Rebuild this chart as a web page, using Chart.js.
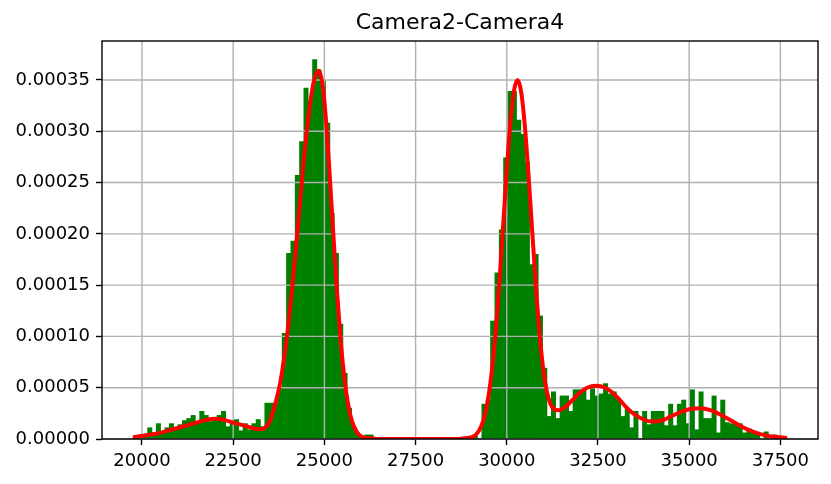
<!DOCTYPE html>
<html>
<head>
<meta charset="utf-8">
<title>Camera2-Camera4</title>
<script src="https://cdn.jsdelivr.net/npm/chart.js@4.4.0/dist/chart.umd.min.js"></script>
<style>
  html, body { margin: 0; padding: 0; background: #fff; }
</style>
</head>
<body>
<canvas id="chart" width="831" height="484"></canvas>
<script>
// Camera2-Camera4 histogram (density), 150 equal bins
const binStart = 19796;
const binWidth = 119;

// bar heights, in units of 1e-5
const binDensity = [
  0.2, 0.4, 0.4, 1.1, 0.4, 1.5, 0.7, 1.1, 1.5, 0.9,
  1.4, 1.8, 2.0, 2.3, 1.5, 2.7, 2.3, 1.7, 2.0, 2.3,
  2.7, 1.2, 1.8, 1.9, 0.8, 1.5, 0.9, 1.5, 1.9, 1.2,
  3.5, 3.5, 3.5, 5.0, 10.3, 18.1, 19.3, 25.7, 29.0, 34.2,
  33.0, 37.0, 36.0, 35.0, 30.8, 22.0, 18.1, 11.2, 6.4, 3.0,
  1.2, 0.4, 0.1, 0.4, 0.4, 0, 0, 0, 0, 0,
  0, 0, 0, 0, 0, 0, 0, 0, 0, 0,
  0, 0, 0, 0, 0, 0, 0, 0.2, 0.4, 0,
  3.4, 3.8, 11.5, 16.2, 20.4, 27.4, 33.9, 33.9, 31.1, 29.7,
  27.0, 17.0, 18.0, 12.0, 6.9, 2.2, 4.6, 2.0, 4.2, 4.2,
  2.7, 4.8, 4.8, 4.8, 3.8, 5.0, 4.2, 4.4, 5.4, 4.4,
  4.6, 3.8, 2.2, 3.0, 1.1, 2.7, 0, 2.7, 1.4, 2.7,
  2.7, 2.7, 1.3, 3.4, 1.3, 3.4, 3.8, 1.5, 4.8, 0.9,
  4.6, 2.0, 2.0, 4.2, 0.6, 3.8, 1.6, 1.5, 1.5, 1.5,
  0.6, 1.0, 0.6, 0.4, 0, 0.7, 0, 0.4, 0.3, 0.2
];

// red density curve, y in units of 1e-5
const curveX = [
  19796, 20000, 20250, 20500, 20750, 21000, 21250, 21500, 21750, 22000,
  22250, 22500, 22750, 23000, 23200, 23350, 23500, 23650, 23800, 23950,
  24100, 24250, 24400, 24550, 24700, 24844, 24950, 25050, 25150, 25250,
  25350, 25450, 25550, 25650, 25750, 25900, 26050, 26300, 26600, 28600,
  28800, 29000, 29100, 29200, 29300, 29400, 29500, 29600, 29700, 29800,
  29900, 30000, 30100, 30200, 30300, 30400, 30500, 30600, 30700, 30800,
  30900, 31000, 31100, 31200, 31300, 31420, 31600, 31800, 32000, 32200,
  32450, 32700, 32900, 33100, 33300, 33500, 33750, 34000, 34250, 34500,
  34750, 35000, 35300, 35600, 35900, 36200, 36500, 36800, 37100, 37400,
  37639
];
const curveY = [
  0.2, 0.3, 0.45, 0.6, 0.85, 1.1, 1.35, 1.6, 1.85, 1.97,
  1.85, 1.6, 1.35, 1.1, 0.95, 1.05, 1.7, 3.4, 5.7, 9.3,
  14.1, 19.8, 25.8, 31.0, 34.7, 35.9, 34.5, 30.8, 25.5, 19.7,
  14.2, 9.5, 5.9, 3.4, 1.8, 0.62, 0.18, 0.05, 0, 0,
  0.05, 0.15, 0.28, 0.62, 1.25, 2.35, 4.2, 6.9, 10.6, 15.4,
  20.8, 26.2, 30.9, 34.0, 35.0, 33.7, 30.3, 25.5, 20.1, 14.8,
  10.2, 6.8, 4.6, 3.4, 2.9, 2.8, 3.1, 3.8, 4.5, 5.0,
  5.2, 5.0, 4.5, 3.8, 3.0, 2.4, 1.9, 1.7, 1.8, 2.2,
  2.6, 2.9, 3.0, 2.8, 2.3, 1.7, 1.1, 0.65, 0.35, 0.2,
  0.12
];

const xTicks = [20000, 22500, 25000, 27500, 30000, 32500, 35000, 37500];
const yTicks = [0, 0.00005, 0.0001, 0.00015, 0.0002, 0.00025, 0.0003, 0.00035];

const UNIT = 1e-5;
const FONT = 'DejaVu Sans';

// grid goes over the bars but under the curve, spines on top
const gridAndSpines = {
  id: 'gridAndSpines',
  afterDatasetDraw(chart, args) {
    if (args.index !== 0) return;
    const { ctx, chartArea: a, scales: { x, y } } = chart;
    ctx.save();
    ctx.strokeStyle = '#b0b0b0';
    ctx.lineWidth = 1.4;
    ctx.beginPath();
    x.ticks.forEach(t => {
      const p = x.getPixelForValue(t.value);
      ctx.moveTo(p, a.top);
      ctx.lineTo(p, a.bottom);
    });
    y.ticks.forEach(t => {
      const p = y.getPixelForValue(t.value);
      ctx.moveTo(a.left, p);
      ctx.lineTo(a.right, p);
    });
    ctx.stroke();
    ctx.restore();
  },
  afterDraw(chart) {
    const { ctx, chartArea: a } = chart;
    ctx.save();
    ctx.strokeStyle = '#000';
    ctx.lineWidth = 1.4;
    ctx.strokeRect(a.left, a.top, a.right - a.left, a.bottom - a.top);
    ctx.restore();
  }
};

new Chart(document.getElementById('chart'), {
  type: 'bar',
  data: {
    datasets: [
      {
        type: 'bar',
        data: binDensity.map((d, i) => ({ x: binStart + (i + 0.5) * binWidth, y: d * UNIT })),
        backgroundColor: '#008000',
        borderWidth: 0,
        barPercentage: 1,
        categoryPercentage: 1,
        order: 1
      },
      {
        type: 'line',
        data: curveX.map((v, i) => ({ x: v, y: curveY[i] * UNIT })),
        borderColor: '#ff0000',
        borderWidth: 4,
        borderCapStyle: 'round',
        borderJoinStyle: 'round',
        pointRadius: 0,
        fill: false,
        cubicInterpolationMode: 'monotone',
        order: 0
      }
    ]
  },
  options: {
    responsive: false,
    animation: false,
    layout: { padding: { left: 0, right: 13, top: 0, bottom: 0 } },
    plugins: {
      legend: { display: false },
      tooltip: { enabled: false },
      title: {
        display: true,
        text: 'Camera2-Camera4',
        fullSize: false,
        color: '#000',
        font: { family: FONT, size: 22, weight: 'normal' },
        padding: { top: 10.3, bottom: 4.3 }
      }
    },
    scales: {
      x: {
        type: 'linear',
        min: 18904,
        max: 38531,
        offset: false,
        grid: { drawOnChartArea: false, drawTicks: true, tickLength: 6, tickColor: '#000', tickWidth: 1.4, offset: false },
        border: { display: false },
        ticks: {
          color: '#000',
          font: { family: FONT, size: 18 },
          padding: 6,
          autoSkip: false,
          maxRotation: 0,
          callback: v => String(v)
        },
        afterBuildTicks: s => { s.ticks = xTicks.map(v => ({ value: v })); },
        afterFit: s => { s.height = 45; }
      },
      y: {
        type: 'linear',
        min: 0,
        max: 0.000388,
        grid: { drawOnChartArea: false, drawTicks: true, tickLength: 6, tickColor: '#000', tickWidth: 1.4 },
        border: { display: false },
        ticks: {
          color: '#000',
          font: { family: FONT, size: 18 },
          padding: 6,
          autoSkip: false,
          callback: v => v.toFixed(5)
        },
        afterBuildTicks: s => { s.ticks = yTicks.map(v => ({ value: v })); },
        afterFit: s => { s.width = 102; }
      }
    }
  },
  plugins: [gridAndSpines]
});
</script>
</body>
</html>
